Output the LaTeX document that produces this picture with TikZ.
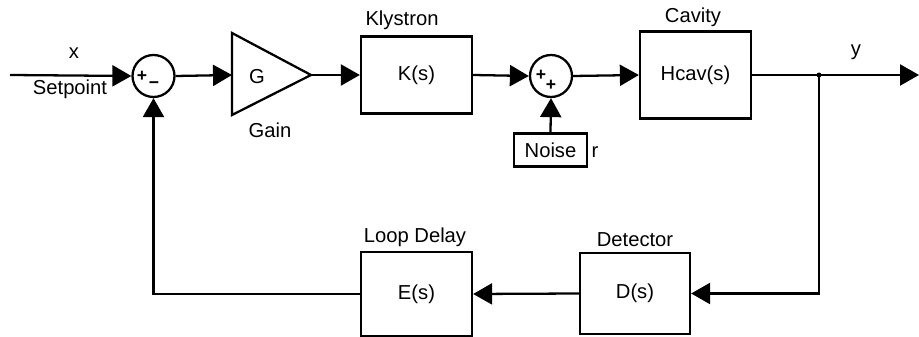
\documentclass[tikz,border=0pt]{standalone}
\usepackage{fontspec}
\setmainfont{Liberation Sans}
\usetikzlibrary{arrows.meta}

\tikzset{
  block/.style={draw, line width=1.3pt, minimum width=2.22cm, inner sep=0pt},
  sumnode/.style={draw, circle, line width=1.3pt, minimum size=0.84cm, inner sep=0pt},
  sgn/.style={font=\fontsize{10}{10}\selectfont\bfseries, inner sep=0pt},
  lbl/.style={inner sep=0pt}
}

\begin{document}
\begin{tikzpicture}[x=0.02cm, y=-0.02cm, >={Triangle[length=0.38cm, width=0.42cm]},
    line width=1.3pt, font=\fontsize{11.5}{13}\selectfont]
  \useasboundingbox (0,0) rectangle (919,337);

  % forward path
  \coordinate (in) at (10,75);
  \node[sumnode] (sum1) at (153.5,76) {};
  \node[sgn] (p1) at (142,76) {+};
  \node[sgn] (m1) at (154,85) {−};

  \coordinate (gin) at (232,75);
  \coordinate (gout) at (311,75);
  \draw (232,33) -- (gout) -- (232,115) -- cycle;
  \node[lbl] (gl) at (257,77) {G};
  \node[lbl] (gainl) at (270,130) {Gain};

  \node[block, minimum height=1.54cm] (K) at (416.5,75) {K(s)};
  \node[lbl] (Kl) at (402,20) {Klystron};

  \node[sumnode] (sum2) at (551,76) {};
  \node[sgn] (p2) at (541,75) {+};
  \node[sgn] (p3) at (551,85) {+};

  \node[block, minimum width=1.46cm, minimum height=0.66cm] (noise) at (550.5,150) {Noise};
  \node[lbl] (rl) at (595,152) {r};

  \node[block, minimum height=1.74cm] (H) at (695.5,75) {Hcav(s)};
  \node[lbl] (Hl) at (693,17) {Cavity};

  \coordinate (tap) at (819,75);
  \coordinate (out) at (919,75);
  \fill (tap) circle (2.5);

  % feedback path
  \node[block, minimum width=2.2cm, minimum height=1.62cm] (D) at (635,293.5) {D(s)};
  \node[lbl] (Dl) at (635,240) {Detector};
  \node[block, minimum height=1.68cm] (E) at (416.5,294) {E(s)};
  \node[lbl] (El) at (415,237) {Loop Delay};

  \node[lbl] (xl) at (74,53) {x};
  \node[lbl] (spl) at (70,89) {Setpoint};
  \node[lbl] (yl) at (856,52) {y};

  % connectors
  \draw[->] (in) -- (sum1.west);
  \draw[->] (sum1.east) -- (gin);
  \draw[->] (gout) -- (K.west);
  \draw[->] (K.east) -- (sum2.west);
  \draw[->] (noise.north) -- (sum2.south);
  \draw[->] (sum2.east) -- (H.west);
  \draw[->] (H.east) -- (out);
  \draw[->] (tap) |- (D.east);
  \draw[->] (D.west) -- (E.east);
  \draw[->] (E.west) -| (sum1.south);
\end{tikzpicture}
\end{document}
